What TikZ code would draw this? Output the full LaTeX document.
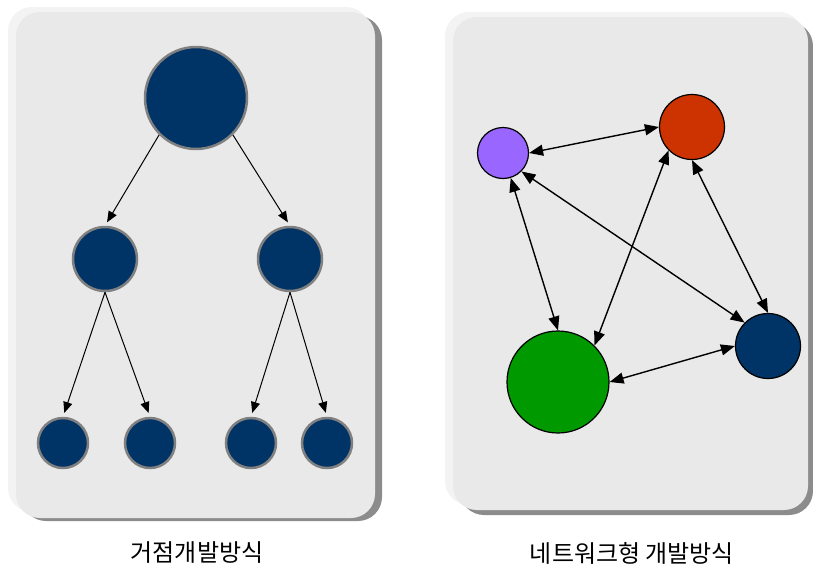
\documentclass[tikz,border=0pt]{standalone}
\usepackage{fontspec}
\newfontfamily\kfont{Noto Sans CJK KR}
\usetikzlibrary{arrows.meta}
\definecolor{navy}{HTML}{003366}
\definecolor{rimgray}{HTML}{808080}
\definecolor{shadowgray}{HTML}{8C8C8C}
\definecolor{panellight}{HTML}{F3F3F3}
\definecolor{panelmain}{HTML}{E9E9E9}
\definecolor{violet}{HTML}{9966FF}
\definecolor{brick}{HTML}{CC3300}
\definecolor{leaf}{HTML}{009900}
\tikzset{
  shadowbox/.style={fill=shadowgray, rounded corners=24pt},
  lightbox/.style={fill=panellight, rounded corners=24pt},
  mainbox/.style={fill=panelmain, rounded corners=24pt},
  treenode/.style={circle, fill=navy, draw=rimgray, line width=2.5pt, inner sep=0pt},
  netnode/.style={circle, draw=black, line width=1.2pt, inner sep=0pt},
  treearrow/.style={-{Triangle[length=11pt,width=9pt]}, line width=1pt, shorten >=4pt},
  netarrow/.style={{Triangle[length=14pt,width=11pt]}-{Triangle[length=14pt,width=11pt]}, line width=1.4pt},
  caption/.style={font=\kfont\fontsize{24pt}{28pt}\selectfont, inner sep=0pt}
}
\begin{document}
\begin{tikzpicture}[x=1pt, y=-1pt]
\useasboundingbox (0,0) rectangle (813,568);

% left panel
\fill[shadowbox] (22,16) rectangle (382,521);
\fill[lightbox] (8,7) rectangle (370,512);
\fill[mainbox] (16,12) rectangle (375,518);

% right panel
\fill[shadowbox] (460,22) rectangle (813,515);
\fill[lightbox] (445,12) rectangle (803,505);
\fill[mainbox] (453,17) rectangle (808,510);

% hierarchical tree
\node[treenode, minimum size=102pt] (root) at (196,98) {};
\node[treenode, minimum size=64pt] (ma) at (105,259) {};
\node[treenode, minimum size=64pt] (mb) at (290,259) {};
\node[treenode, minimum size=50pt] (la) at (63,443) {};
\node[treenode, minimum size=50pt] (lb) at (150,443) {};
\node[treenode, minimum size=50pt] (lc) at (251,443) {};
\node[treenode, minimum size=50pt] (ld) at (327,443) {};

\draw[treearrow] (root.south west) -- (ma.north);
\draw[treearrow] (root.south east) -- (mb.north);
\draw[treearrow] (ma.south) -- (la.north);
\draw[treearrow] (ma.south) -- (lb.north);
\draw[treearrow] (mb.south) -- (lc.north);
\draw[treearrow] (mb.south) -- (ld.north);

% network
\node[netnode, fill=violet, minimum size=51pt] (pa) at (503,153) {};
\node[netnode, fill=brick, minimum size=65pt] (pb) at (692,127) {};
\node[netnode, fill=leaf, minimum size=102pt] (pc) at (558,382) {};
\node[netnode, fill=navy, minimum size=65pt] (pd) at (768,346) {};

\draw[netarrow] (pa.east) -- (pb.west);
\draw[netarrow] (pa) -- (pc.north);
\draw[netarrow] (pa.south east) -- (pd.north west);
\draw[netarrow] (pb.south west) -- (pc.north east);
\draw[netarrow] (pb.south) -- (pd.north);
\draw[netarrow] (pc.east) -- (pd.west);

% captions
\node[caption] (capl) at (197,553) {거점개발방식};
\node[caption] (capr) at (632,553) {네트워크형 개발방식};
\end{tikzpicture}
\end{document}
